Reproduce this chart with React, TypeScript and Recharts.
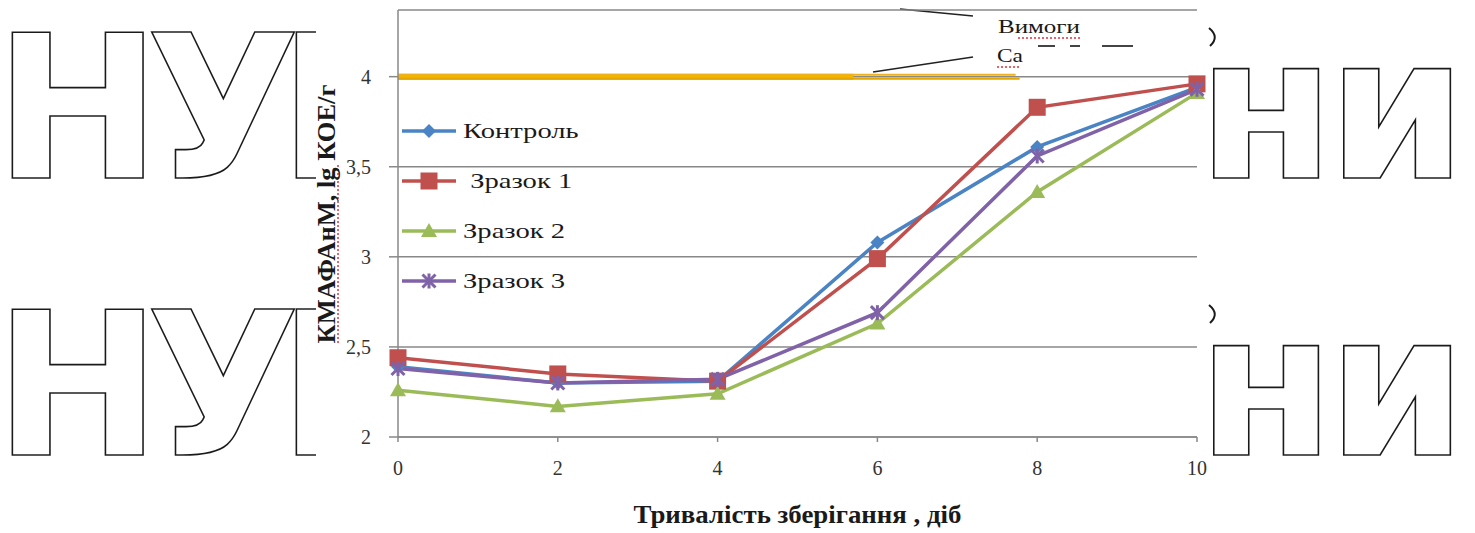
import React from 'react';
import {
  LineChart, Line, XAxis, YAxis, CartesianGrid, ReferenceLine, Label,
} from 'recharts';

// storage time, days
const DAYS = [0, 2, 4, 6, 8, 10];
// КМАФАнМ, lg КОЕ/г
const CONTROL = [2.39, 2.3, 2.31, 3.08, 3.61, 3.94];
const SAMPLE_1 = [2.44, 2.35, 2.31, 2.99, 3.83, 3.96];
const SAMPLE_2 = [2.26, 2.17, 2.24, 2.63, 3.36, 3.91];
const SAMPLE_3 = [2.38, 2.3, 2.32, 2.69, 3.56, 3.93];

const X_TICKS = [0, 2, 4, 6, 8, 10];
const Y_TICKS = [2, 2.5, 3, 3.5, 4];
const REQUIREMENT = 4;
const REQUIREMENT_END = 7.78;
const REQUIREMENT_THICK_END = 5.7;

const X_TITLE = 'Тривалість зберігання , діб';
const Y_TITLE = 'КМАФАнМ, lg КОЕ/г';

const data = DAYS.map((d, i) => ({
  day: d,
  control: CONTROL[i],
  s1: SAMPLE_1[i],
  s2: SAMPLE_2[i],
  s3: SAMPLE_3[i],
}));

const SERIF = '"Liberation Serif", "Times New Roman", serif';

type Shape = 'diamond' | 'square' | 'triangle' | 'star';

const Marker = ({ shape, cx, cy, color }: { shape: Shape; cx: number; cy: number; color: string }) => {
  if (shape === 'diamond') {
    const s = 7;
    return <polygon points={`${cx},${cy - s} ${cx + s},${cy} ${cx},${cy + s} ${cx - s},${cy}`} fill={color} />;
  }
  if (shape === 'square') {
    return <rect x={cx - 8.5} y={cy - 8.5} width={17} height={17} fill={color} />;
  }
  if (shape === 'triangle') {
    return <polygon points={`${cx},${cy - 8} ${cx + 8},${cy + 6} ${cx - 8},${cy + 6}`} fill={color} />;
  }
  const s = 6.5;
  return (
    <g stroke={color} strokeWidth={3}>
      <line x1={cx - s} y1={cy - s} x2={cx + s} y2={cy + s} />
      <line x1={cx - s} y1={cy + s} x2={cx + s} y2={cy - s} />
      <line x1={cx} y1={cy - s - 1} x2={cx} y2={cy + s + 1} />
    </g>
  );
};

const makeDot = (shape: Shape, color: string) => (props: any) => {
  const { cx, cy, index } = props;
  if (cx == null || cy == null) return <g key={index} />;
  return <g key={index}><Marker shape={shape} cx={cx} cy={cy} color={color} /></g>;
};

const SERIES = [
  { key: 'control', name: 'Контроль', color: '#4A84C4', shape: 'diamond' as Shape },
  { key: 's1', name: ' Зразок 1', color: '#C0504D', shape: 'square' as Shape },
  { key: 's2', name: 'Зразок 2', color: '#9BBB59', shape: 'triangle' as Shape },
  { key: 's3', name: 'Зразок 3', color: '#7F62A8', shape: 'star' as Shape },
];

// legend sits inside the plot area, upper left; the source image is stretched sideways
const LegendBox = () => (
  <div style={{ position: 'absolute', left: 400, top: 106, fontFamily: SERIF, fontSize: 22, color: '#1a1a1a' }}>
    {SERIES.map((s) => (
      <div key={s.key} style={{ display: 'flex', alignItems: 'center', height: 50, whiteSpace: 'pre' }}>
        <svg width={58} height={22} style={{ marginRight: 5 }}>
          <line x1={2} y1={11} x2={56} y2={11} stroke={s.color} strokeWidth={3.5} />
          <Marker shape={s.shape} cx={29} cy={11} color={s.color} />
        </svg>
        <span style={{ display: 'inline-block', transform: 'scaleX(1.3)', transformOrigin: 'left center' }}>{s.name}</span>
      </div>
    ))}
  </div>
);

// outlined watermark letters behind the chart
const Backdrop = () => {
  const letter = (ch: string, x: number, y: number, k: string) => (
    <text key={k} x={x} y={y}
      fontFamily='"DejaVu Sans", sans-serif' fontWeight={700} fontSize={200}
      fill="#fff" stroke="#1a1a1a" strokeWidth={1.6}>{ch}</text>
  );
  const rows = [178, 455];
  return (
    <svg width={1475} height={533} style={{ position: 'absolute', left: 0, top: 0 }}>
      {rows.map((b, r) => (
        <g key={r}>
          {letter('Б', 278, b, `b${r}`)}
          {letter('У', 146, b, `u${r}`)}
          {letter('Н', -6, b, `h${r}`)}
          {letter('и', 1327, b, `i${r}`)}
          {letter('н', 1197, b, `n${r}`)}
          <path d={`M1209 ${b - 150} Q1220 ${b - 141} 1210 ${b - 132}`} fill="none" stroke="#1a1a1a" strokeWidth={2} />
        </g>
      ))}
      <rect x={316} y={0} width={891} height={533} fill="#fff" />
      {/* remnants of the requirement labels at the top */}
      <line x1={900} y1={9} x2={973} y2={16} stroke="#222" strokeWidth={1.5} />
      <line x1={873} y1={72} x2={973} y2={57} stroke="#222" strokeWidth={1.5} />
      <text x={998} y={33} fontFamily={SERIF} fontSize={19} textLength={82} lengthAdjust="spacingAndGlyphs" fill="#1a1a1a">Вимоги</text>
      <line x1={1018} y1={38} x2={1080} y2={38} stroke="#e0303a" strokeWidth={1.5} strokeDasharray="2 2" />
      <text x={997} y={62} fontFamily={SERIF} fontSize={19} textLength={26} lengthAdjust="spacingAndGlyphs" fill="#1a1a1a">Са</text>
      <line x1={997} y1={67} x2={1020} y2={67} stroke="#e0303a" strokeWidth={1.5} strokeDasharray="2 2" />
      <line x1={1038} y1={46} x2={1055} y2={46} stroke="#444" strokeWidth={2} />
      <line x1={1070} y1={46} x2={1080} y2={46} stroke="#444" strokeWidth={2} />
      <line x1={1102} y1={46} x2={1133} y2={46} stroke="#444" strokeWidth={2} />
      <line x1={338} y1={165} x2={338} y2={345} stroke="#e0303a" strokeWidth={1.5} strokeDasharray="2 2" />
    </svg>
  );
};

const fmt = (v: number) => String(v).replace('.', ',');

export default function App() {
  const tick = { fontFamily: SERIF, fontSize: 20, fill: '#333' };
  return (
    <div style={{ position: 'absolute', left: 0, top: 0, width: 1475, height: 533, background: '#fff', overflow: 'hidden' }}>
      <Backdrop />
      <div style={{ position: 'absolute', left: 0, top: 0 }}>
        <LineChart width={1475} height={533} data={data} margin={{ top: 10, right: 278, bottom: 0, left: 338 }}>
          <CartesianGrid vertical={false} stroke="#888" strokeWidth={1.5} />
          <XAxis type="number" dataKey="day" domain={[0, 10]} ticks={X_TICKS} height={96}
            stroke="#888" strokeWidth={1.5} tickSize={5} tickMargin={19} tick={tick}>
            <Label content={(p: any) => {
              const vb = p.viewBox || {};
              return (
                <text x={vb.x + vb.width / 2} y={vb.y + 86} textAnchor="middle" textLength={328} lengthAdjust="spacingAndGlyphs"
                  fontFamily={SERIF} fontSize={26} fontWeight={700} fill="#1a1a1a">{X_TITLE}</text>
              );
            }} />
          </XAxis>
          <YAxis type="number" domain={[2, 4.37]} ticks={Y_TICKS} width={60} tickFormatter={fmt}
            stroke="#888" strokeWidth={1.5} tickSize={9} tickMargin={18} tick={tick} allowDataOverflow>
            <Label content={(p: any) => {
              const vb = p.viewBox || {};
              const cx = vb.x - 3;
              const cy = 214;
              return (
                <text x={cx} y={cy} transform={`rotate(-90 ${cx} ${cy})`} textAnchor="middle" textLength={259} lengthAdjust="spacingAndGlyphs"
                  fontFamily={SERIF} fontSize={25} fontWeight={700} fill="#1a1a1a">{Y_TITLE}</text>
              );
            }} />
          </YAxis>
          <ReferenceLine segment={[{ x: 0, y: REQUIREMENT }, { x: REQUIREMENT_THICK_END, y: REQUIREMENT }]}
            stroke="#F4B400" strokeWidth={6} />
          <ReferenceLine segment={[{ x: 0, y: REQUIREMENT + 0.01 }, { x: REQUIREMENT_END - 0.05, y: REQUIREMENT + 0.01 }]}
            stroke="#EDB21C" strokeWidth={2} />
          <ReferenceLine segment={[{ x: 0, y: REQUIREMENT - 0.012 }, { x: REQUIREMENT_END, y: REQUIREMENT - 0.012 }]}
            stroke="#E3A500" strokeWidth={2} />
          {SERIES.map((s) => (
            <Line key={s.key} type="linear" dataKey={s.key} name={s.name} stroke={s.color} strokeWidth={3.5}
              dot={makeDot(s.shape, s.color)} activeDot={false} isAnimationActive={false} />
          ))}
        </LineChart>
      </div>
      <LegendBox />
    </div>
  );
}
